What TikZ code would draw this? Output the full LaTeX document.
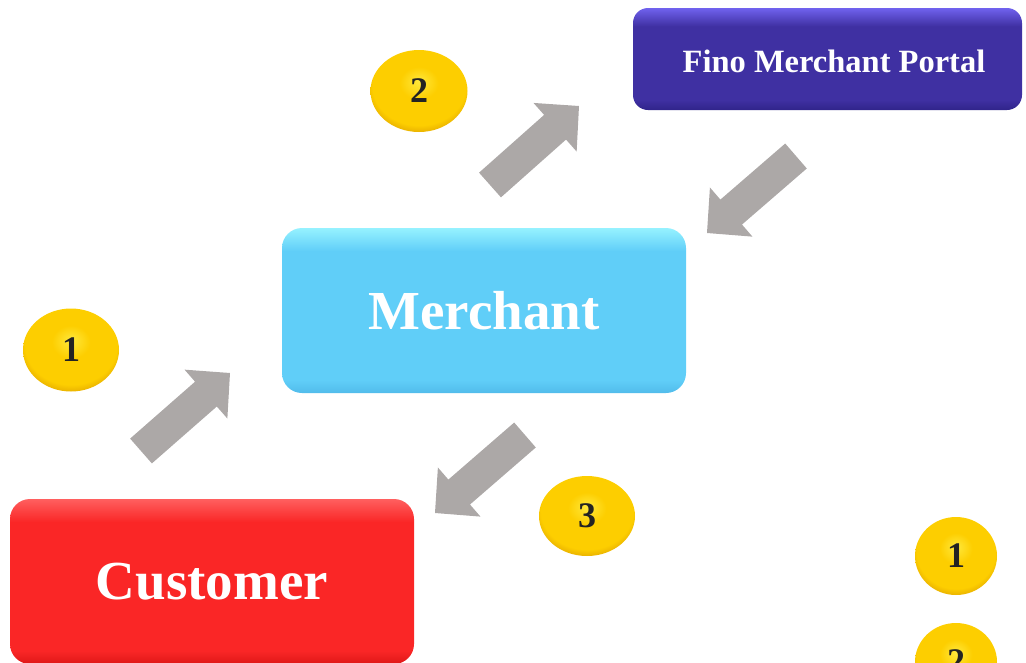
\documentclass[tikz,border=0pt]{standalone}
\usepackage{fontspec}
\setmainfont{Liberation Serif}
\usetikzlibrary{shapes.geometric,calc}
\definecolor{portalT}{RGB}{112,98,238}
\definecolor{portalM}{RGB}{63,48,162}
\definecolor{portalB}{RGB}{48,36,138}
\definecolor{merchT}{RGB}{150,242,255}
\definecolor{merchM}{RGB}{96,206,248}
\definecolor{merchB}{RGB}{82,188,235}
\definecolor{custT}{RGB}{255,95,95}
\definecolor{custM}{RGB}{250,38,38}
\definecolor{custB}{RGB}{222,24,24}
\definecolor{coinIn}{RGB}{255,232,60}
\definecolor{coinMid}{RGB}{253,206,0}
\definecolor{coinOut}{RGB}{228,170,0}
\definecolor{arrowgray}{RGB}{172,168,167}
\definecolor{digit}{RGB}{35,35,35}
\pgfdeclareverticalshading{portalsh}{100bp}{color(0bp)=(portalB); color(25bp)=(portalB); color(30bp)=(portalM); color(66bp)=(portalM); color(75bp)=(portalT); color(100bp)=(portalT)}
\pgfdeclareverticalshading{merchsh}{100bp}{color(0bp)=(merchB); color(25bp)=(merchB); color(29bp)=(merchM); color(68bp)=(merchM); color(75bp)=(merchT); color(100bp)=(merchT)}
\pgfdeclareverticalshading{custsh}{100bp}{color(0bp)=(custB); color(25bp)=(custB); color(29bp)=(custM); color(68bp)=(custM); color(75bp)=(custT); color(100bp)=(custT)}
\pgfdeclareradialshading{coinsh}{\pgfpoint{0bp}{6bp}}{color(0bp)=(coinIn); color(10bp)=(coinMid); color(24bp)=(coinMid); color(29bp)=(coinOut); color(50bp)=(coinOut)}
\newcommand\blkarrow[2]{%
  \coordinate (hb) at ($(#2)!32pt!(#1)$);
  \fill[blk] ($(#1)!16.5pt!90:(#2)$) -- ($(hb)!16.5pt!-90:(#1)$) -- ($(hb)!32.5pt!-90:(#1)$) -- (#2)
    -- ($(hb)!32.5pt!90:(#1)$) -- ($(hb)!16.5pt!90:(#1)$) -- ($(#1)!16.5pt!-90:(#2)$) -- cycle;}
\tikzset{
  box/.style={rectangle, rounded corners=20pt, minimum width=404pt, minimum height=165pt, inner sep=0pt,
    text=white, font=\bfseries\fontsize{55}{60}\selectfont},
  coin/.style={ellipse, inner sep=0pt, shade, shading=coinsh, text=digit,
    font=\bfseries\fontsize{36}{40}\selectfont},
  blk/.style={fill=arrowgray},
}
\begin{document}
\begin{tikzpicture}[x=1pt,y=-1pt]
\useasboundingbox (0,0) rectangle (1026,662);
\clip (0,0) rectangle (1026,662);
% boxes
\node[rectangle, rounded corners=15pt, minimum width=389pt, minimum height=102pt, inner sep=0pt, shade, shading=portalsh] (portal) at (827.5,59) {};
\node[text=white, font=\bfseries\fontsize{32.5}{36}\selectfont, inner sep=0pt] (portaltext) at (834,61) {Fino Merchant Portal};
\node[box, shade, shading=merchsh] (merchant) at (484,310.5) {Merchant};
\node[box, shade, shading=custsh] (customer) at (212,581.5) {Customer};
% coins
\node[coin, minimum width=97pt, minimum height=82pt] (c2) at (419,91) {2};
\node[coin, minimum width=96pt, minimum height=83pt] (c1) at (71,350) {1};
\node[coin, minimum width=96pt, minimum height=80pt] (c3) at (587,516) {3};
\node[coin, minimum width=82pt, minimum height=78pt] (r1) at (956,556) {1};
\node[coin, minimum width=82pt, minimum height=78pt] (r2) at (956,662) {2};
% arrows
\coordinate (a1t) at (141,451); \coordinate (a1h) at (230,373);
\coordinate (a2t) at (490,185); \coordinate (a2h) at (579,106);
\coordinate (a3t) at (796,156); \coordinate (a3h) at (707,233);
\coordinate (a4t) at (525,435); \coordinate (a4h) at (435,513);
\blkarrow{a1t}{a1h}
\blkarrow{a2t}{a2h}
\blkarrow{a3t}{a3h}
\blkarrow{a4t}{a4h}
\end{tikzpicture}
\end{document}
